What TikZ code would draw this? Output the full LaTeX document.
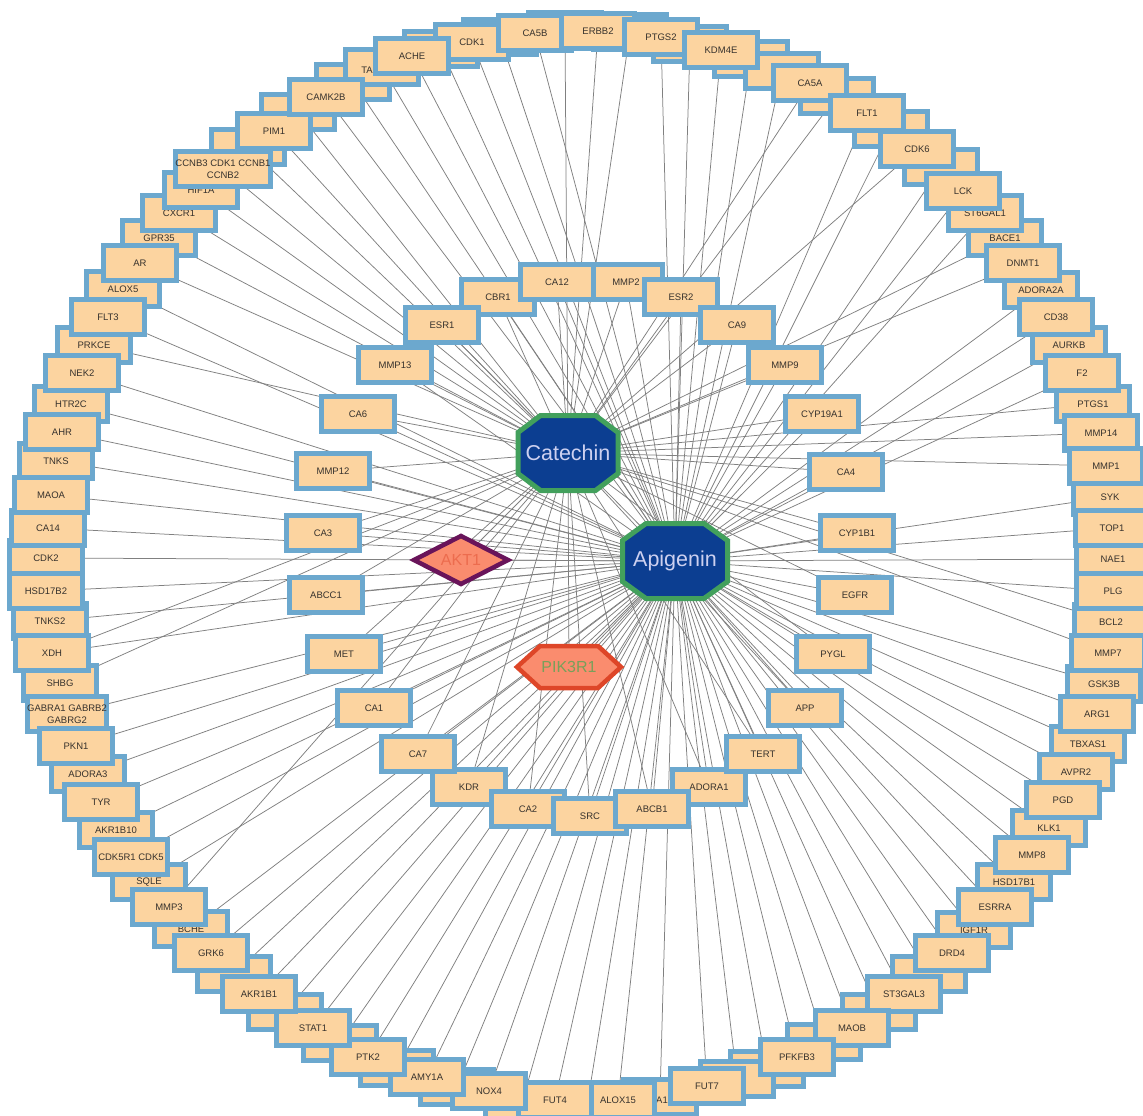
\documentclass[tikz,border=0pt]{standalone}
\usepackage{fontspec}
\setmainfont{Liberation Sans}
\pgfdeclarelayer{back}
\pgfdeclarelayer{edges}
\pgfsetlayers{back,edges,main}
\definecolor{boxblue}{RGB}{108,168,206}
\definecolor{peach}{RGB}{252,212,160}
\definecolor{lblgray}{RGB}{55,50,45}
\definecolor{edgegray}{RGB}{128,128,128}
\definecolor{hubblue}{RGB}{12,62,145}
\definecolor{hubgreen}{RGB}{66,160,92}
\definecolor{hubtext}{RGB}{205,208,240}
\definecolor{salmon}{RGB}{250,140,110}
\definecolor{aktborder}{RGB}{105,20,90}
\definecolor{akttext}{RGB}{236,108,78}
\definecolor{pikborder}{RGB}{222,70,40}
\definecolor{piktext}{RGB}{120,160,90}
\tikzset{
  tbox/.style={draw=boxblue, fill=peach, line width=5pt, rectangle, minimum width=73pt, minimum height=35pt, inner sep=0pt, outer sep=0pt, font=\fontsize{9.5}{12}\selectfont, text=lblgray, align=center},
  frag/.style={inner sep=0pt, font=\fontsize{9.5}{12}\selectfont, text=lblgray},
  link/.style={draw=edgegray, line width=0.75pt},
  hublabel/.style={inner sep=2pt, font=\fontsize{21.5}{24}\selectfont, text=hubtext},
  hubshape/.style={draw=hubgreen, fill=hubblue, line width=5pt, line join=miter},
  pinklabel/.style={inner sep=1pt, font=\fontsize{16}{18}\selectfont},
}
\begin{document}
\begin{tikzpicture}[x=1pt,y=-1pt]
\begin{pgfonlayer}{back}
\fill[white] (0,0) rectangle (1143,1116);
\end{pgfonlayer}
\useasboundingbox (0,0) rectangle (1143,1116);

% ---------- outer ring, hidden boxes ----------
\node[tbox] (h500) at (500,37) {};
\node[tbox] (h565) at (565,30) {};
\node[tbox] (h630) at (630,32) {};
\node[tbox] (h690) at (690,44) {};
\node[tbox] (h751) at (751,59) {};
\node[tbox] (h782) at (782,71) {};
\node[tbox] (h837) at (837,96) {};
\node[tbox] (h891) at (891,129) {};
\node[tbox] (h941) at (941,167) {};
\node[tbox] (h929) at (929,974) {};
\node[tbox] (h879) at (879,1012) {};
\node[tbox] (h824) at (824,1042) {};
\node[tbox] (h767) at (767,1069) {};
\node[tbox] (h737) at (737,1079) {};
\node[tbox] (h587) at (587,1106) {};
\node[tbox] (h522) at (522,1103) {};
\node[tbox] (h457) at (457,1087) {};
\node[tbox] (h397) at (397,1068) {};
\node[tbox] (h340) at (340,1043) {};
\node[tbox] (h285) at (285,1012) {};
\node[tbox] (h234) at (234,974) {};
\node[tbox] (h248) at (248,147) {};
\node[tbox] (h298) at (298,112) {};
\node[tbox] (h353) at (353,82) {};
\node[tbox] (h441) at (441,49) {};

% ---------- outer ring, partly covered ----------
\node[tbox] (bace1) at (1005,238) {BACE1};
\node[tbox] (st6gal1) at (985,213) {ST6GAL1};
\node[tbox] (adora2a) at (1041,290) {ADORA2A};
\node[tbox] (aurkb) at (1069,345) {AURKB};
\node[tbox] (ptgs1) at (1093,404) {PTGS1};
\node[tbox] (syk) at (1110,497) {SYK};
\node[tbox] (nae1) at (1113,559) {NAE1};
\node[tbox] (bcl2) at (1111,622) {BCL2};
\node[tbox] (gsk3b) at (1104,684) {GSK3B};
\node[tbox] (tbxas1) at (1088,744) {TBXAS1};
\node[tbox] (avpr2) at (1076,772) {AVPR2};
\node[tbox] (klk1) at (1049,828) {KLK1};
\node[tbox] (hsd17b1) at (1014,882) {HSD17B1};
\node[tbox] (igf1r) at (974,930) {IGF1R};
\node[tbox] (a1) at (660,1097) {};
\node[frag] (a1txt) at (662,1100) {A1};
\node[tbox] (bche) at (191,929) {BCHE};
\node[tbox] (sqle) at (149,882) {SQLE};
\node[tbox] (akr1b10) at (116,830) {AKR1B10};
\node[tbox] (adora3) at (88,774) {ADORA3};
\node[tbox] (shbg) at (60,683) {SHBG};
\node[tbox] (tnks2) at (50,621) {TNKS2};
\node[tbox] (cdk2) at (46,558) {CDK2};
\node[tbox] (tnks) at (56,461) {TNKS};
\node[tbox] (htr2c) at (71,404) {HTR2C};
\node[tbox] (prkce) at (94,345) {PRKCE};
\node[tbox] (alox5) at (123,289) {ALOX5};
\node[tbox] (gpr35) at (159,238) {GPR35};
\node[tbox] (cxcr1) at (179,213) {CXCR1};
\node[tbox] (hif1a) at (201,190) {HIF1A};
\node[tbox] (ta) at (382,67) {};
\node[frag] (tatxt) at (367,70) {TA};

% ---------- outer ring, front ----------
\node[tbox] (cdk1) at (472,42) {CDK1};
\node[tbox] (ache) at (412,56) {ACHE};
\node[tbox] (ca5b) at (535,33) {CA5B};
\node[tbox] (erbb2) at (598,31) {ERBB2};
\node[tbox] (ptgs2) at (661,37) {PTGS2};
\node[tbox] (kdm4e) at (721,50) {KDM4E};
\node[tbox] (ca5a) at (810,83) {CA5A};
\node[tbox] (flt1) at (867,113) {FLT1};
\node[tbox] (cdk6) at (917,149) {CDK6};
\node[tbox] (lck) at (963,191) {LCK};
\node[tbox] (dnmt1) at (1023,263) {DNMT1};
\node[tbox] (cd38) at (1056,317) {CD38};
\node[tbox] (f2) at (1082,373) {F2};
\node[tbox] (mmp14) at (1101,433) {MMP14};
\node[tbox] (mmp1) at (1106,466) {MMP1};
\node[tbox] (top1) at (1112,528) {TOP1};
\node[tbox] (plg) at (1113,591) {PLG};
\node[tbox] (mmp7) at (1108,653) {MMP7};
\node[tbox] (arg1) at (1097,714) {ARG1};
\node[tbox] (pgd) at (1063,800) {PGD};
\node[tbox] (mmp8) at (1032,855) {MMP8};
\node[tbox] (esrra) at (995,907) {ESRRA};
\node[tbox] (drd4) at (952,953) {DRD4};
\node[tbox] (st3gal3) at (904,994) {ST3GAL3};
\node[tbox] (maob) at (852,1028) {MAOB};
\node[tbox] (pfkfb3) at (797,1057) {PFKFB3};
\node[tbox] (fut7) at (707,1086) {FUT7};
\node[tbox] (alox15) at (618,1100) {ALOX15};
\node[tbox] (fut4) at (555,1100) {FUT4};
\node[tbox] (nox4) at (489,1091) {NOX4};
\node[tbox] (amy1a) at (427,1077) {AMY1A};
\node[tbox] (ptk2) at (368,1057) {PTK2};
\node[tbox] (stat1) at (313,1028) {STAT1};
\node[tbox] (akr1b1) at (259,994) {AKR1B1};
\node[tbox] (grk6) at (211,953) {GRK6};
\node[tbox] (mmp3) at (169,907) {MMP3};
\node[tbox] (cdk5) at (131,857) {CDK5R1 CDK5};
\node[tbox] (tyr) at (101,802) {TYR};
\node[tbox] (gabra) at (67,714) {GABRA1 GABRB2\\GABRG2};
\node[tbox] (pkn1) at (76,746) {PKN1};
\node[tbox] (xdh) at (52,653) {XDH};
\node[tbox] (hsd17b2) at (46,591) {HSD17B2};
\node[tbox] (ca14) at (48,528) {CA14};
\node[tbox] (maoa) at (51,495) {MAOA};
\node[tbox] (ahr) at (62,432) {AHR};
\node[tbox] (nek2) at (82,373) {NEK2};
\node[tbox] (flt3) at (108,317) {FLT3};
\node[tbox] (ar) at (140,263) {AR};
\node[tbox] (ccnb) at (223,169) {CCNB3 CDK1 CCNB1\\CCNB2};
\node[tbox] (pim1) at (274,131) {PIM1};
\node[tbox] (camk2b) at (326,97) {CAMK2B};

% ---------- inner ring ----------
\node[tbox] (cbr1) at (498,297) {CBR1};
\node[tbox] (mmp2) at (626,282) {MMP2};
\node[tbox] (ca12) at (557,282) {CA12};
\node[tbox] (esr2) at (681,297) {ESR2};
\node[tbox] (esr1) at (442,325) {ESR1};
\node[tbox] (ca9) at (737,325) {CA9};
\node[tbox] (mmp13) at (395,365) {MMP13};
\node[tbox] (mmp9) at (785,365) {MMP9};
\node[tbox] (ca6) at (358,414) {CA6};
\node[tbox] (cyp19a1) at (822,414) {CYP19A1};
\node[tbox] (mmp12) at (333,471) {MMP12};
\node[tbox] (ca4) at (846,472) {CA4};
\node[tbox] (ca3) at (323,533) {CA3};
\node[tbox] (cyp1b1) at (857,533) {CYP1B1};
\node[tbox] (abcc1) at (326,595) {ABCC1};
\node[tbox] (egfr) at (855,595) {EGFR};
\node[tbox] (met) at (344,654) {MET};
\node[tbox] (pygl) at (833,654) {PYGL};
\node[tbox] (ca1) at (374,708) {CA1};
\node[tbox] (app) at (805,708) {APP};
\node[tbox] (kdr) at (469,787) {KDR};
\node[tbox] (adora1) at (709,787) {ADORA1};
\node[tbox] (ca7) at (418,754) {CA7};
\node[tbox] (tert) at (763,754) {TERT};
\node[tbox] (ca2) at (528,809) {CA2};
\node[tbox] (src) at (590,816) {SRC};
\node[tbox] (abcb1) at (652,809) {ABCB1};

% ---------- hubs ----------
\coordinate (catc) at (568,453);
\draw[hubshape, shift={(catc)}] (50,20.5) -- (27.5,37.5) -- (-27.5,37.5) -- (-50,20.5) -- (-50,-20.5) -- (-27.5,-37.5) -- (27.5,-37.5) -- (50,-20.5) -- cycle;
\node[hublabel] (cat) at (catc) {Catechin};

\coordinate (apic) at (675,561);
\draw[hubshape, shift={(apic)}] (52.5,20.5) -- (29,37.5) -- (-29,37.5) -- (-52.5,20.5) -- (-52.5,-20.5) -- (-29,-37.5) -- (29,-37.5) -- (52.5,-20.5) -- cycle;
\node[hublabel] (api) at (apic) {Apigenin};

\coordinate (aktc) at (461,560);
\draw[line width=4.5pt, draw=aktborder, fill=salmon, line join=miter, shift={(aktc)}] (-47,0) -- (0,-24) -- (47,0) -- (0,24) -- cycle;
\node[pinklabel, text=akttext] (akt) at (aktc) {AKT1};

\coordinate (pikc) at (569,667);
\draw[line width=4.5pt, draw=pikborder, fill=salmon, line join=miter, shift={(pikc)}] (-52,0) -- (-29,-21) -- (29,-21) -- (52,0) -- (29,21) -- (-29,21) -- cycle;
\node[pinklabel, text=piktext] (pik) at (pikc) {PIK3R1};

% ---------- edges ----------
\begin{pgfonlayer}{edges}
\foreach \n in {cbr1,mmp2,ca12,esr2,esr1,ca9,mmp13,mmp9,ca6,cyp19a1,mmp12,ca4,ca3,cyp1b1,abcc1,egfr,met,pygl,ca1,app,kdr,adora1,ca7,tert,ca2,src,abcb1,akt,pik}{
  \draw[link] (cat) -- (\n);
  \draw[link] (api) -- (\n);
}
\foreach \n in {h565,erbb2,h630,ca5a,h837,cdk6,bace1,dnmt1,ptgs1,mmp14,mmp1,bcl2,mmp7,shbg,xdh,mmp3,prkce,gpr35,cxcr1,hif1a,ccnb,ar,pim1,h298,h248}
  \draw[link] (cat) -- (\n);
\foreach \n in {h500,ca5b,ptgs2,h690,kdm4e,h751,h782,flt1,h891,h941,lck,st6gal1,adora2a,cd38,aurkb,f2,syk,top1,nae1,plg,gsk3b,arg1,tbxas1,avpr2,pgd,klk1,mmp8,hsd17b1,esrra,igf1r,drd4,h929,st3gal3,h879,maob,h824,pfkfb3,h767,h737,fut7,a1,alox15,h587,fut4,h522,nox4,h457,amy1a,h397,ptk2,h340,stat1,h285,akr1b1,h234,grk6,bche,sqle,cdk5,akr1b10,tyr,adora3,pkn1,gabra,xdh,tnks2,hsd17b2,cdk2,ca14,maoa,tnks,ahr,htr2c,nek2,flt3,alox5,h353,ta,camk2b,ache,h441,cdk1}
  \draw[link] (api) -- (\n);
\end{pgfonlayer}
\end{tikzpicture}
\end{document}
